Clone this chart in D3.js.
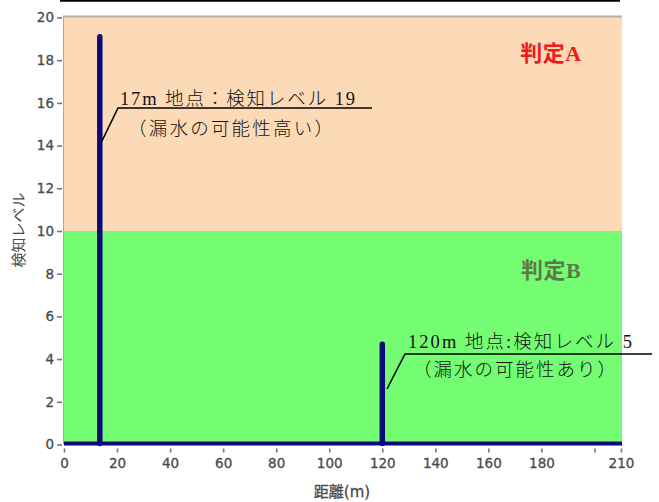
<!DOCTYPE html>
<html><head><meta charset="utf-8">
<script src="https://cdn.jsdelivr.net/npm/d3@7"></script>
<style>html,body{margin:0;padding:0;background:#fff;}svg{display:block;}</style>
</head><body>
<script>
// ---- data ----
const xTicks = [0, 20, 40, 60, 80, 100, 120, 140, 160, 180, 200, 210];
const xTickLabels = ["0","20","40","60","80","100","120","140","160","180","","210"];
const yTicks = [0, 2, 4, 6, 8, 10, 12, 14, 16, 18, 20];
const zones = [ {name:"判定B", from:0, to:10}, {name:"判定A", from:10, to:20} ];
const spikeDistances = [13.5, 120];
const spikeLevels = [19.1, 4.7];
const annotationLine1 = ["17m 地点：検知レベル 19", "120m 地点:検知レベル 5"];
const annotationLine2 = ["（漏水の可能性高い）", "（漏水の可能性あり）"];
const xTitle = "距離(m)";
const yTitle = "検知レベル";

const W = 659, H = 502;
const svg = d3.select("body").append("svg").attr("width", W).attr("height", H);
const x = d3.scaleLinear().domain([0, 210]).range([64, 621]);
const y = d3.scaleLinear().domain([0, 20]).range([444.5, 17.5]);

// top rule
svg.append("line").attr("x1", 60).attr("x2", 620).attr("y1", 0.8).attr("y2", 0.8)
  .attr("stroke", "#000").attr("stroke-width", 1.8);

// zones
const zoneColors = ["#74fd72", "#fcdab8"];
svg.selectAll("rect.zone").data(zones).enter().append("rect")
  .attr("x", x(0)).attr("width", x(210) + 1 - x(0))
  .attr("y", d => y(d.to)).attr("height", d => y(d.from) - y(d.to))
  .attr("fill", (d, i) => zoneColors[i]);
// plot borders
svg.append("line").attr("x1", x(0)).attr("x2", x(210) + 1).attr("y1", y(20) - 1).attr("y2", y(20) - 1)
  .attr("stroke", "#b4aaa0").attr("stroke-width", 2);
svg.append("line").attr("x1", x(0) - 0.5).attr("x2", x(0) - 0.5).attr("y1", y(20) - 2).attr("y2", y(0))
  .attr("stroke", "#a8a8a8").attr("stroke-width", 1);

// zone labels
const zoneLabelColors = ["#5c7a48", "#f01a1a"];
svg.selectAll("text.zl").data(zones).enter().append("text")
  .attr("x", 551).attr("y", (d, i) => i === 1 ? 61 : 278)
  .attr("text-anchor", "middle")
  .attr("font-family", "'Liberation Serif', 'Noto Sans CJK JP', serif").attr("font-weight", "bold")
  .attr("font-size", 22).attr("letter-spacing", 0.5)
  .attr("fill", (d, i) => zoneLabelColors[i]).text(d => d.name);

// axes
const axisColor = "#4a4a4a";
const xAxis = svg.append("g").attr("transform", `translate(0,${y(0) + 4})`)
  .call(d3.axisBottom(x).tickValues(xTicks).tickFormat((d, i) => xTickLabels[i]).tickSize(4).tickPadding(6));
const yAxis = svg.append("g").attr("transform", `translate(${x(0) - 2},0)`)
  .call(d3.axisLeft(y).tickValues(yTicks).tickSize(5).tickPadding(3));
[xAxis, yAxis].forEach(g => {
  g.select(".domain").remove();
  g.selectAll(".tick line").attr("stroke", "#777").attr("stroke-width", 1.6);
  g.selectAll(".tick text").attr("fill", axisColor)
    .attr("font-family", "'DejaVu Sans', sans-serif").attr("font-size", 13.5)
    .attr("stroke", axisColor).attr("stroke-width", 0.3);
});

// axis titles
svg.append("text").attr("x", 342).attr("y", 497).attr("text-anchor", "middle")
  .attr("font-family", "'DejaVu Sans', 'Noto Sans CJK JP', sans-serif").attr("font-size", 15).attr("fill", axisColor)
  .attr("stroke", axisColor).attr("stroke-width", 0.3)
  .text(xTitle);
svg.append("text").attr("transform", `translate(24,230) rotate(-90)`).attr("text-anchor", "middle")
  .attr("font-family", "'Noto Sans CJK JP', sans-serif").attr("font-size", 15).attr("fill", axisColor)
  .text(yTitle);

// series: baseline + spikes
const navy = "#0a0a7a";
svg.append("line").attr("x1", x(0)).attr("x2", x(210) + 1).attr("y1", y(0) - 1).attr("y2", y(0) - 1)
  .attr("stroke", navy).attr("stroke-width", 4);
svg.selectAll("line.spike").data(spikeDistances).enter().append("line")
  .attr("x1", d => x(d)).attr("x2", d => x(d))
  .attr("y1", y(0) - 1).attr("y2", (d, i) => y(spikeLevels[i]))
  .attr("stroke", navy).attr("stroke-width", 5.5).attr("stroke-linecap", "round");

// annotations
const annFont = "'Liberation Serif', 'Noto Sans CJK JP', serif";
const ann = [
  {tx: 120, ty: 105, tl: 235, ux1: 118, ux2: 372, uy: 108, lx: 101, ly: 143, t2x: 128, t2y: 135, t2l: 205},
  {tx: 408, ty: 348, tl: 224, ux1: 405, ux2: 652, uy: 354, lx: 387, ly: 389, t2x: 413, t2y: 376, t2l: 203}
];
ann.forEach((a, i) => {
  svg.append("text").attr("x", a.tx).attr("y", a.ty).attr("font-family", annFont).attr("font-weight", 300)
    .attr("font-size", 18.5).attr("fill", "#111").attr("textLength", a.tl).attr("lengthAdjust", "spacing")
    .text(annotationLine1[i]);
  svg.append("text").attr("x", a.t2x).attr("y", a.t2y).attr("font-family", annFont).attr("font-weight", 300)
    .attr("font-size", 18.5).attr("fill", "#111").attr("textLength", a.t2l).attr("lengthAdjust", "spacing")
    .text(annotationLine2[i]);
  svg.append("polyline")
    .attr("points", `${a.lx},${a.ly} ${a.ux1},${a.uy} ${a.ux2},${a.uy}`)
    .attr("fill", "none").attr("stroke", "#000").attr("stroke-width", 1.6);
});
</script>
</body></html>
